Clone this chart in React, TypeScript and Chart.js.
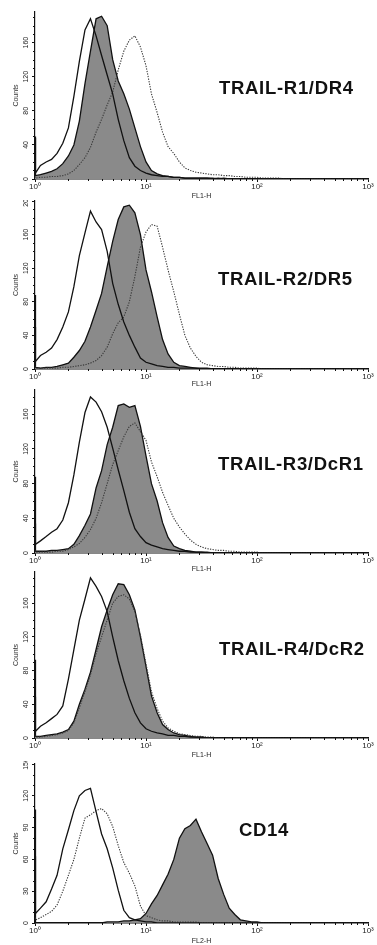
import React, { useEffect, useRef } from 'react';
import { Chart, registerables } from 'chart.js';

Chart.register(...registerables);

// Fluorescence channel positions (x values, log scale)
const CHANNELS = [
  1.0, 1.01,
  1.12, 1.26, 1.41, 1.58, 1.78, 2.0, 2.24, 2.51, 2.82, 3.16,
  3.55, 3.98, 4.47, 5.01, 5.62, 6.31, 7.08, 7.94, 8.91, 10.0,
  11.2, 12.6, 14.1, 15.8, 17.8, 20.0, 22.4, 25.1, 28.2, 31.6,
  35.5, 39.8, 44.7, 50.1, 56.2, 63.1, 70.8, 79.4, 89.1, 100,
  112, 126, 141, 158, 178, 200,
  251, 316, 398, 501, 631, 794, 1000,
];

const X_TICKS = [1, 10, 100, 1000];
const X_TICK_LABELS = ['10\u2070', '10\u00B9', '10\u00B2', '10\u00B3'];
const X_MINOR_TICKS = [2, 3, 4, 5, 6, 7, 8, 9, 20, 30, 40, 50, 60, 70, 80, 90, 200, 300, 400, 500, 600, 700, 800, 900];

const Y_TICKS_160 = [0, 40, 80, 120, 160];
const Y_TICKS_200 = [0, 40, 80, 120, 160, 200];
const Y_TICKS_150 = [0, 30, 60, 90, 120, 150];

const PANEL_TITLES = ['TRAIL-R1/DR4', 'TRAIL-R2/DR5', 'TRAIL-R3/DcR1', 'TRAIL-R4/DcR2', 'CD14'];
const X_TITLES = ['FL1-H', 'FL1-H', 'FL1-H', 'FL1-H', 'FL2-H'];
const Y_TITLE = 'Counts';

// Panel 1 – TRAIL-R1/DR4
const P1_SOLID = [50, 7,
  16, 20, 23, 30, 42, 60, 97, 138, 175, 188,
  168, 145, 122, 100, 70, 45, 25, 15, 10, 7,
  5, 4, 3, 3, 2, 2, 1, 1, 1, 1,
  1, 1, 0, 1, 0, 0, 0, 0, 0, 0,
  0, 0, 0, 0, 0, 0,
  0, 0, 0, 0, 0, 0, 0];
const P1_FILLED = [48, 4,
  5, 7, 9, 12, 18, 27, 40, 68, 112, 150,
  188, 191, 180, 140, 115, 100, 82, 60, 38, 20,
  10, 6, 4, 3, 2, 2, 1, 1, 1, 1,
  1, 0, 1, 0, 0, 0, 0, 0, 0, 0,
  0, 0, 0, 0, 0, 0,
  0, 0, 0, 0, 0, 0, 0];
const P1_DOTTED = [3, 1,
  2, 2, 3, 3, 4, 6, 10, 17, 25, 37,
  55, 70, 87, 102, 128, 150, 163, 168, 155, 133,
  100, 78, 55, 38, 30, 20, 13, 10, 8, 7,
  6, 5, 5, 4, 4, 3, 3, 2, 2, 2,
  1, 1, 1, 1, 0, 0,
  0, 0, 0, 0, 0, 0, 0];

// Panel 2 – TRAIL-R2/DR5
const P2_SOLID = [88, 9,
  16, 20, 25, 35, 50, 68, 98, 135, 162, 188,
  175, 166, 140, 102, 77, 56, 40, 26, 13, 8,
  6, 4, 3, 2, 2, 1, 1, 1, 1, 0,
  0, 0, 0, 0, 0, 0, 0, 0, 0, 0,
  0, 0, 0, 0, 0, 0,
  0, 0, 0, 0, 0, 0, 0];
const P2_FILLED = [50, 2,
  1, 2, 2, 3, 5, 7, 14, 22, 33, 50,
  70, 90, 122, 152, 178, 193, 195, 186, 160, 118,
  92, 62, 35, 18, 8, 4, 3, 2, 1, 1,
  1, 0, 0, 0, 0, 0, 0, 0, 0, 0,
  0, 0, 0, 0, 0, 0,
  0, 0, 0, 0, 0, 0, 0];
const P2_DOTTED = [3, 1,
  1, 1, 1, 1, 2, 2, 3, 4, 5, 7,
  10, 16, 26, 42, 55, 62, 80, 110, 145, 163,
  172, 170, 145, 118, 92, 65, 40, 25, 15, 8,
  5, 4, 3, 3, 2, 2, 1, 1, 1, 1,
  0, 0, 0, 0, 0, 0,
  0, 0, 0, 0, 0, 0, 0];

// Panel 3 – TRAIL-R3/DcR1
const P3_SOLID = [88, 10,
  14, 19, 24, 28, 38, 58, 90, 128, 162, 180,
  174, 163, 145, 121, 96, 72, 47, 28, 19, 12,
  9, 7, 5, 4, 3, 2, 2, 1, 1, 1,
  1, 0, 0, 0, 0, 0, 0, 0, 0, 0,
  0, 0, 0, 0, 0, 0,
  0, 0, 0, 0, 0, 0, 0];
const P3_FILLED = [34, 2,
  2, 2, 3, 3, 4, 5, 10, 20, 32, 45,
  75, 95, 125, 145, 170, 172, 168, 170, 146, 112,
  80, 60, 35, 18, 8, 5, 3, 2, 1, 1,
  0, 0, 0, 0, 0, 0, 0, 0, 0, 0,
  0, 0, 0, 0, 0, 0,
  0, 0, 0, 0, 0, 0, 0];
const P3_DOTTED = [3, 1,
  1, 1, 1, 2, 2, 4, 7, 11, 18, 27,
  40, 58, 80, 102, 118, 134, 146, 150, 140, 130,
  105, 88, 70, 55, 40, 30, 22, 15, 10, 7,
  5, 4, 3, 3, 2, 2, 1, 1, 1, 1,
  0, 0, 0, 0, 0, 0,
  0, 0, 0, 0, 0, 0, 0];

// Panel 4 – TRAIL-R4/DcR2
const P4_SOLID = [93, 8,
  14, 18, 23, 28, 38, 70, 105, 140, 165, 190,
  180, 168, 150, 120, 92, 68, 47, 30, 18, 11,
  8, 6, 5, 3, 3, 2, 2, 1, 1, 1,
  0, 0, 0, 0, 0, 0, 0, 0, 0, 0,
  0, 0, 0, 0, 0, 0,
  0, 0, 0, 0, 0, 0, 0];
const P4_FILLED = [49, 2,
  2, 3, 4, 5, 7, 10, 20, 40, 58, 78,
  105, 132, 152, 170, 183, 182, 170, 152, 120, 85,
  50, 30, 16, 10, 6, 4, 3, 2, 1, 1,
  0, 0, 0, 0, 0, 0, 0, 0, 0, 0,
  0, 0, 0, 0, 0, 0,
  0, 0, 0, 0, 0, 0, 0];
const P4_DOTTED = [3, 1,
  1, 2, 3, 4, 6, 9, 18, 36, 55, 75,
  100, 120, 140, 160, 168, 170, 165, 150, 122, 88,
  55, 35, 20, 12, 8, 5, 4, 3, 2, 2,
  1, 1, 0, 0, 0, 0, 0, 0, 0, 0,
  0, 0, 0, 0, 0, 0,
  0, 0, 0, 0, 0, 0, 0];

// Panel 5 – CD14
const P5_SOLID = [107, 9,
  14, 20, 32, 45, 70, 88, 106, 120, 125, 127,
  105, 84, 70, 52, 31, 12, 5, 3, 2, 1,
  1, 0, 0, 0, 0, 0, 0, 0, 0, 0,
  0, 0, 0, 0, 0, 0, 0, 0, 0, 0,
  0, 0, 0, 0, 0, 0,
  0, 0, 0, 0, 0, 0, 0];
const P5_FILLED = [63, 0,
  0, 0, 0, 0, 0, 0, 0, 0, 0, 0,
  0, 0, 1, 1, 1, 2, 2, 3, 4, 9,
  18, 26, 36, 46, 60, 80, 89, 92, 98, 86,
  75, 64, 42, 27, 14, 8, 3, 2, 1, 1,
  0, 0, 0, 0, 0, 0,
  0, 0, 0, 0, 0, 0, 0];
const P5_DOTTED = [5, 3,
  5, 8, 11, 17, 30, 45, 60, 80, 99, 102,
  106, 108, 103, 91, 73, 57, 47, 35, 16, 7,
  5, 3, 2, 2, 1, 1, 1, 1, 1, 0,
  0, 0, 0, 0, 0, 0, 0, 0, 0, 0,
  0, 0, 0, 0, 0, 0,
  0, 0, 0, 0, 0, 0, 0];

const FONT = '"Liberation Sans", Arial, Helvetica, sans-serif';

type PanelCfg = {
  title: string; xTitle: string;
  solid: number[]; filled: number[]; dotted: number[];
  yMax: number; yTicks: number[]; yMinorStep: number;
  top: number; height: number; padTop: number; xAxisH: number;
  titleLeft: number; titleCY: number;
};

const PANELS: PanelCfg[] = [
  { title: PANEL_TITLES[0], xTitle: X_TITLES[0], solid: P1_SOLID, filled: P1_FILLED, dotted: P1_DOTTED,
    yMax: 196, yTicks: Y_TICKS_160, yMinorStep: 10, top: 0, height: 200, padTop: 12, xAxisH: 21, titleLeft: 219, titleCY: 88 },
  { title: PANEL_TITLES[1], xTitle: X_TITLES[1], solid: P2_SOLID, filled: P2_FILLED, dotted: P2_DOTTED,
    yMax: 200, yTicks: Y_TICKS_200, yMinorStep: 10, top: 200, height: 188, padTop: 1, xAxisH: 19, titleLeft: 218, titleCY: 279 },
  { title: PANEL_TITLES[2], xTitle: X_TITLES[2], solid: P3_SOLID, filled: P3_FILLED, dotted: P3_DOTTED,
    yMax: 188, yTicks: Y_TICKS_160, yMinorStep: 10, top: 388, height: 185, padTop: 2, xAxisH: 20, titleLeft: 218, titleCY: 464 },
  { title: PANEL_TITLES[3], xTitle: X_TITLES[3], solid: P4_SOLID, filled: P4_FILLED, dotted: P4_DOTTED,
    yMax: 197, yTicks: Y_TICKS_160, yMinorStep: 10, top: 570, height: 189, padTop: 2, xAxisH: 21, titleLeft: 219, titleCY: 649 },
  { title: PANEL_TITLES[4], xTitle: X_TITLES[4], solid: P5_SOLID, filled: P5_FILLED, dotted: P5_DOTTED,
    yMax: 150, yTicks: Y_TICKS_150, yMinorStep: 10, top: 761, height: 184, padTop: 3, xAxisH: 22, titleLeft: 239, titleCY: 830 },
];

function toPoints(values: number[]) {
  return CHANNELS.map((x, i) => ({ x, y: values[i] }));
}

function Panel({ cfg }: { cfg: PanelCfg }) {
  const ref = useRef<HTMLCanvasElement | null>(null);

  useEffect(() => {
    if (!ref.current) return;
    const minorTicks = {
      id: 'minorTicks',
      afterDraw(chart: any) {
        const { ctx, chartArea } = chart;
        const xs = chart.scales.x;
        const ys = chart.scales.y;
        ctx.save();
        ctx.strokeStyle = '#111';
        ctx.lineWidth = 1;
        ctx.beginPath();
        for (const v of X_MINOR_TICKS) {
          const px = Math.round(xs.getPixelForValue(v)) + 0.5;
          ctx.moveTo(px, chartArea.bottom);
          ctx.lineTo(px, chartArea.bottom + 2);
        }
        for (let v = cfg.yMinorStep; v <= cfg.yMax; v += cfg.yMinorStep) {
          if (cfg.yTicks.includes(v)) continue;
          const py = Math.round(ys.getPixelForValue(v)) + 0.5;
          ctx.moveTo(chartArea.left, py);
          ctx.lineTo(chartArea.left - 2, py);
        }
        ctx.stroke();
        ctx.restore();
      },
    };

    const chart = new Chart(ref.current, {
      type: 'line',
      data: {
        datasets: [
          {
            label: 'solid',
            data: toPoints(cfg.solid),
            borderColor: '#111',
            borderWidth: 1.3,
            pointRadius: 0,
            fill: false,
            tension: 0,
          },
          {
            label: 'dotted',
            data: toPoints(cfg.dotted),
            borderColor: '#3a3a3a',
            borderWidth: 1.1,
            borderDash: [1.3, 1.3],
            pointRadius: 0,
            fill: false,
            tension: 0,
          },
          {
            label: 'filled',
            data: toPoints(cfg.filled),
            borderColor: '#111',
            backgroundColor: '#8a8a8a',
            borderWidth: 1.3,
            pointRadius: 0,
            fill: 'origin',
            tension: 0,
          },
        ],
      },
      options: {
        responsive: false,
        animation: false,
        events: [],
        layout: { padding: { top: cfg.padTop, left: 0, right: 9, bottom: 0 } },
        plugins: { legend: { display: false }, tooltip: { enabled: false } },
        scales: {
          x: {
            type: 'logarithmic',
            min: 1,
            max: 1000,
            afterBuildTicks: (scale: any) => {
              scale.ticks = X_TICKS.map((v) => ({ value: v, major: true }));
            },
            afterFit: (scale: any) => {
              scale.height = cfg.xAxisH;
              scale.paddingLeft = 0;
              scale.paddingRight = 0;
            },
            grid: { drawOnChartArea: false, drawTicks: true, tickLength: 3, color: '#111', lineWidth: 1 },
            border: { display: true, color: '#111', width: 1.4 },
            ticks: {
              autoSkip: false,
              maxRotation: 0,
              minRotation: 0,
              padding: 0,
              color: '#222',
              font: { family: FONT, size: 8 },
              callback: (_v: any, i: number) => X_TICK_LABELS[i],
            },
            title: {
              display: true,
              text: cfg.xTitle,
              color: '#222',
              font: { family: FONT, size: 7 },
              padding: { top: 0, bottom: 0 },
            },
          },
          y: {
            type: 'linear',
            min: 0,
            max: cfg.yMax,
            afterBuildTicks: (scale: any) => {
              scale.ticks = cfg.yTicks.map((v) => ({ value: v }));
            },
            afterFit: (scale: any) => {
              scale.width = 35;
              scale.paddingTop = 0;
              scale.paddingBottom = 0;
            },
            grid: { drawOnChartArea: false, drawTicks: true, tickLength: 3, color: '#111', lineWidth: 1 },
            border: { display: true, color: '#111', width: 1.2 },
            ticks: {
              autoSkip: false,
              minRotation: 90,
              maxRotation: 90,
              crossAlign: 'center',
              padding: 0,
              color: '#222',
              font: { family: FONT, size: 7 },
              callback: (v: any) => String(v),
            },
            title: {
              display: true,
              text: Y_TITLE,
              color: '#333',
              font: { family: FONT, size: 7 },
              padding: { top: 12, bottom: 0 },
            },
          },
        },
      } as any,
      plugins: [minorTicks],
    });
    return () => chart.destroy();
  }, [cfg]);

  return (
    <>
      <canvas
        ref={ref}
        width={377}
        height={cfg.height}
        style={{ position: 'absolute', left: 0, top: cfg.top, width: 377, height: cfg.height, display: 'block' }}
      />
      <div
        style={{
          position: 'absolute',
          left: cfg.titleLeft,
          top: cfg.titleCY - 10,
          fontFamily: FONT,
          fontWeight: 700,
          fontSize: 18.5,
          lineHeight: '20px',
          letterSpacing: 0.7,
          color: '#111',
          whiteSpace: 'nowrap',
        }}
      >
        {cfg.title}
      </div>
    </>
  );
}

export default function App() {
  return (
    <div style={{ position: 'absolute', left: 0, top: 0, width: 377, height: 945, background: '#fff', overflow: 'hidden' }}>
      {PANELS.map((p, i) => (
        <Panel key={i} cfg={p} />
      ))}
    </div>
  );
}
